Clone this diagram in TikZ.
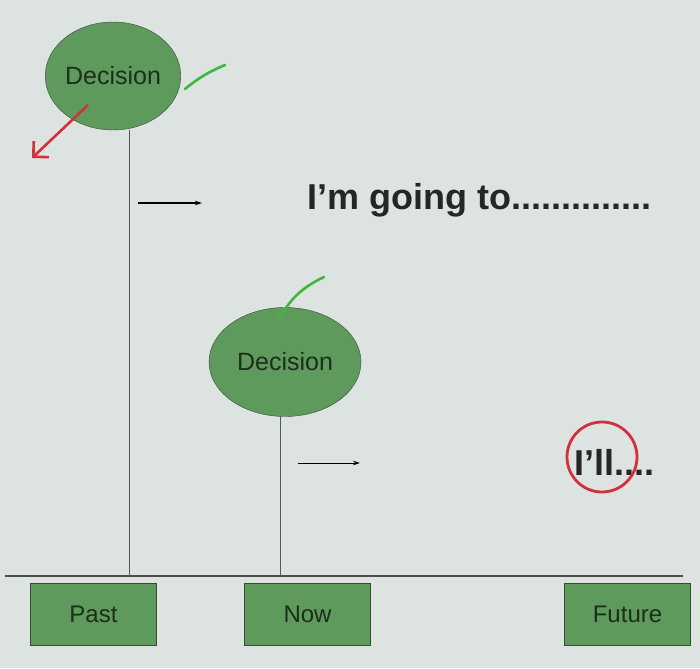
\documentclass[tikz,border=0pt]{standalone}
\usepackage{fontspec}
\setmainfont{Liberation Sans}
\usetikzlibrary{arrows, arrows.meta, shapes, positioning, calc}
\definecolor{slide}{HTML}{DCE3E1}
\definecolor{leaf}{HTML}{5E9A5B}
\definecolor{leafline}{HTML}{3A4A3A}
\definecolor{ink}{HTML}{1C2E1C}
\definecolor{tick}{HTML}{3DB83D}
\definecolor{pen}{HTML}{D3303C}
\begin{document}
\begin{tikzpicture}[x=1pt,y=-1pt,>={Stealth[length=7pt,width=4.5pt]},
         decision/.style={ellipse,draw=leafline,fill=leaf,inner sep=0pt,
         text=ink,font=\fontsize{25}{30}\selectfont},
         timebox/.style={rectangle,draw=leafline,fill=leaf,minimum width=126pt,
         minimum height=62pt,text=ink,font=\fontsize{24}{28}\selectfont},
         timeline/.style={draw=black!65,line width=0.8pt},
         saying/.style={anchor=west,text=black!85,font=\fontsize{36}{40}\selectfont\bfseries},
         markup/.style={line width=2.6pt,line cap=round}]
            \fill[slide] (0,0) rectangle (700,668);
            \useasboundingbox (0,0) rectangle (700,668);
            \node [decision,minimum width=127pt,minimum height=108pt] (dec1) at (113,76) {Decision};
            \node [decision,minimum width=152pt,minimum height=109pt] (dec2) at (285,362) {Decision};
            \node [timebox] (past) at (93.5,614) {Past};
            \node [timebox] (now) at (307.5,614) {Now};
            \node [timebox] (future) at (627.5,614) {Future};
            \coordinate (lineL) at (5,576);
            \coordinate (lineR) at (683,576);
            \coordinate (pastmark) at (129,576);
            \coordinate (nowmark) at (280,576);
            \draw [timeline,line width=1.8pt,draw=black!70] (lineL) -- (lineR);
            \draw [timeline] (pastmark) -- (pastmark |- dec1.south);
            \draw [timeline] (nowmark) -- (nowmark |- dec2.south);
            \node [saying] (going) at (304,200) {I’m going to..............};
            \node [saying] (will) at (571,462) {I’ll....};
            \coordinate (a1) at (138,203);
            \coordinate (a2) at (298,463);
            \draw [->,line width=1pt] (a1) -- ++(64,0);
            \draw [->,line width=1pt] (a2) -- ++(62,0);
            \draw [markup,tick] (185,89) to[bend left=8] (225,65);
            \draw [markup,tick] (278,321) to[bend left=18] (324,277);
            \draw [pen,line width=2.8pt] (602,457) circle (35);
            \draw [pen,line width=2.6pt,-{Straight Barb[length=11pt,width=22pt]}] ($(dec1)+(-25,29)$) -- (32,158);
         \end{tikzpicture}
\end{document}
